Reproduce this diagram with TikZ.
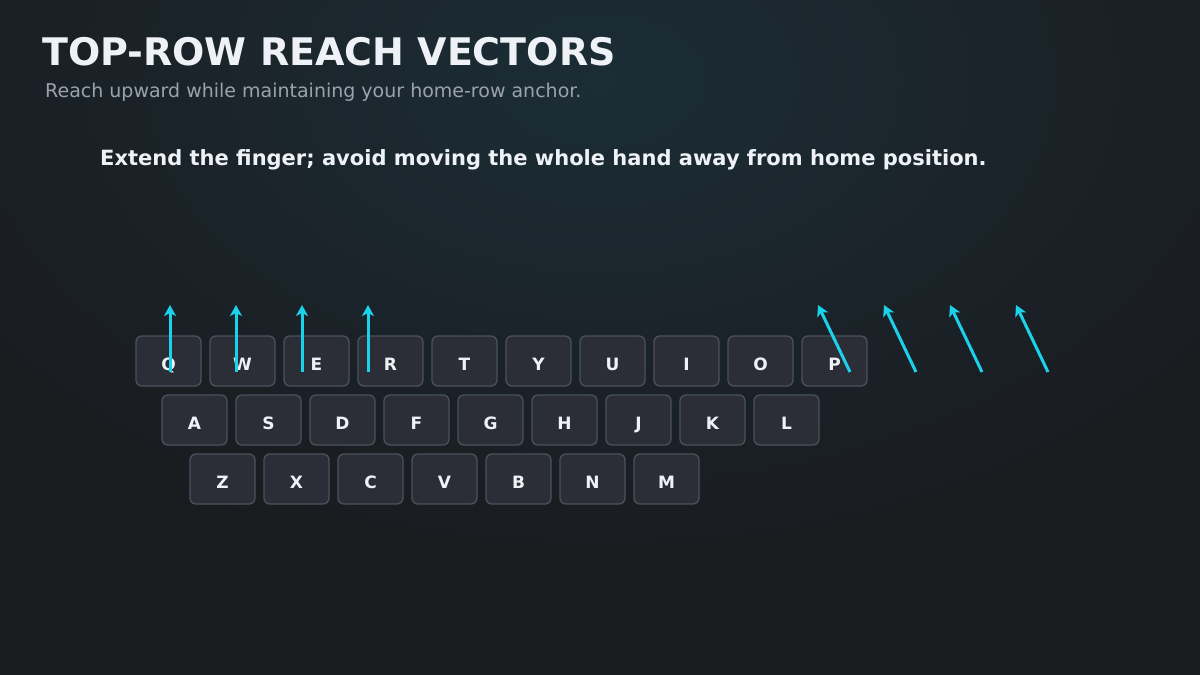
\documentclass[tikz,border=0pt]{standalone}
\usepackage{fontspec}
\setmainfont{DejaVu Sans}
\usetikzlibrary{arrows.meta}
\definecolor{bgdark}{HTML}{1A1B1F}
\definecolor{glow}{HTML}{1B2D35}
\definecolor{keyfill}{HTML}{2B2E36}
\definecolor{keyedge}{HTML}{4C515B}
\definecolor{keytext}{HTML}{EEF2F6}
\definecolor{subgray}{HTML}{9AA3AB}
\definecolor{reachcyan}{HTML}{1CD2EA}
\tikzset{
  key/.style={draw=keyedge, line width=1.3pt, fill=keyfill, rounded corners=6pt,
    minimum width=65pt, minimum height=50pt, inner sep=0pt,
    text=keytext, font=\bfseries\fontsize{17}{17}\selectfont,
    text height=18.5pt, text depth=0pt},
  reach/.style={draw=reachcyan, line width=3pt,
    -{Stealth[length=11pt, width=12pt, inset=3pt]}}
}
\begin{document}
\begin{tikzpicture}[x=1pt, y=-1pt]
      \useasboundingbox (0,0) rectangle (1200,675);
      \fill[bgdark] (0,0) rectangle (1200,675);
      \begin{scope}
        \clip (0,0) rectangle (1200,675);
        \shade[inner color=glow, outer color=bgdark] (600,80) ellipse (780 and 500);
      \end{scope}
      \node[anchor=base west, inner sep=0pt, text=keytext, font=\bfseries\fontsize{38}{38}\selectfont] (title) at (42,65) {TOP-ROW REACH VECTORS};
      \node[anchor=base west, inner sep=0pt, text=subgray, font=\fontsize{19}{19}\selectfont] (subtitle) at (45,97) {Reach upward while maintaining your home-row anchor.};
      \node[anchor=base west, inner sep=0pt, text=keytext, font=\bfseries\fontsize{21}{21}\selectfont] (hint) at (100,165) {Extend the finger; avoid moving the whole hand away from home position.};
      % top row
      \node[key] (q) at (168.5,361) {Q};
      \node[key] (w) at (242.5,361) {W};
      \node[key] (e) at (316.5,361) {E};
      \node[key] (r) at (390.5,361) {R};
      \node[key] (t) at (464.5,361) {T};
      \node[key] (y) at (538.5,361) {Y};
      \node[key] (u) at (612.5,361) {U};
      \node[key] (i) at (686.5,361) {I};
      \node[key] (o) at (760.5,361) {O};
      \node[key] (p) at (834.5,361) {P};
      % home row
      \node[key] (a) at (194.5,420) {A};
      \node[key] (s) at (268.5,420) {S};
      \node[key] (d) at (342.5,420) {D};
      \node[key] (f) at (416.5,420) {F};
      \node[key] (g) at (490.5,420) {G};
      \node[key] (h) at (564.5,420) {H};
      \node[key] (j) at (638.5,420) {J};
      \node[key] (k) at (712.5,420) {K};
      \node[key] (l) at (786.5,420) {L};
      % bottom row
      \node[key] (z) at (222.5,479) {Z};
      \node[key] (x) at (296.5,479) {X};
      \node[key] (c) at (370.5,479) {C};
      \node[key] (v) at (444.5,479) {V};
      \node[key] (b) at (518.5,479) {B};
      \node[key] (n) at (592.5,479) {N};
      \node[key] (m) at (666.5,479) {M};
      % reach vectors
      \coordinate (l1) at (170,372);  \coordinate (l1t) at (170,305);
      \coordinate (l2) at (236,372);  \coordinate (l2t) at (236,305);
      \coordinate (l3) at (302,372);  \coordinate (l3t) at (302,305);
      \coordinate (l4) at (368,372);  \coordinate (l4t) at (368,305);
      \coordinate (r1) at (850,372);  \coordinate (r1t) at (818,305);
      \coordinate (r2) at (916,372);  \coordinate (r2t) at (884,305);
      \coordinate (r3) at (982,372);  \coordinate (r3t) at (950,305);
      \coordinate (r4) at (1048,372); \coordinate (r4t) at (1016,305);
      \begin{scope}[reach]
        \draw (l1) to (l1t);
        \draw (l2) to (l2t);
        \draw (l3) to (l3t);
        \draw (l4) to (l4t);
        \draw (r1) to (r1t);
        \draw (r2) to (r2t);
        \draw (r3) to (r3t);
        \draw (r4) to (r4t);
      \end{scope}
    \end{tikzpicture}
\end{document}
